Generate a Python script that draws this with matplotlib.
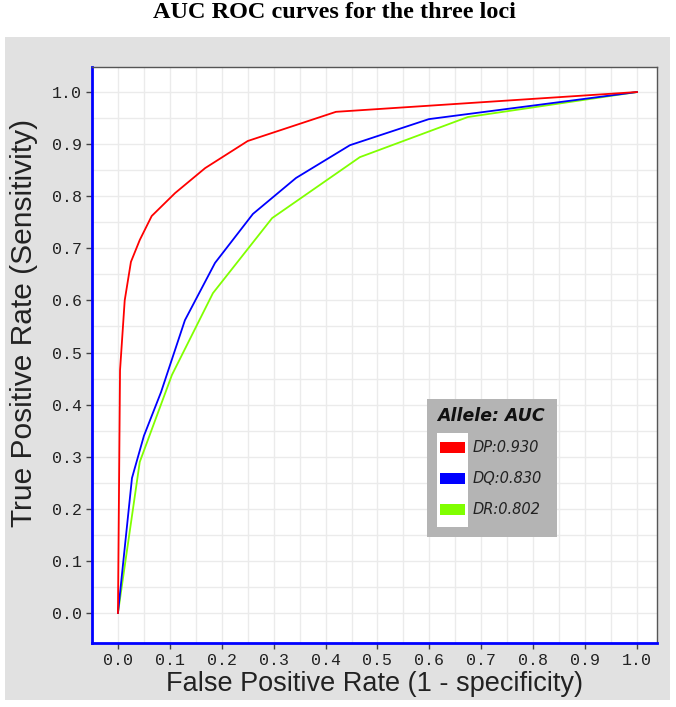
"""
AUC ROC curves for the three HLA loci
"""

import matplotlib
matplotlib.use("Agg")
import matplotlib.pyplot as plt
from matplotlib.patches import Rectangle
import numpy as np

# ROC points (false positive rate, true positive rate)
dp_fpr = [0.0, 0.004, 0.013, 0.025, 0.042, 0.065, 0.11, 0.168, 0.25, 0.42, 1.0]
dp_tpr = [0.0, 0.466, 0.60, 0.674, 0.716, 0.762, 0.806, 0.854, 0.906, 0.962, 1.0]

dq_fpr = [0.0, 0.027, 0.05, 0.083, 0.129, 0.187, 0.26, 0.343, 0.447, 0.599, 1.0]
dq_tpr = [0.0, 0.259, 0.34, 0.424, 0.562, 0.672, 0.766, 0.835, 0.898, 0.948, 1.0]

dr_fpr = [0.0, 0.042, 0.104, 0.183, 0.297, 0.466, 0.674, 1.0]
dr_tpr = [0.0, 0.29, 0.457, 0.614, 0.758, 0.875, 0.952, 1.0]

loci = ['DP', 'DQ', 'DR']
auc = [0.930, 0.830, 0.802]
colors = ['#ff0000', '#0000ff', '#80ff00']

ticks = np.round(np.arange(0, 1.01, 0.1), 1)
tick_labels = [f"{t:.1f}" for t in ticks]

fig = plt.figure(figsize=(6.76, 7.07), dpi=100)

# grey panel behind the plot
panel = Rectangle((0.0074, 0.0099), 0.9837, 0.938, transform=fig.transFigure,
                  facecolor='#e1e1e1', edgecolor='none', zorder=-10)
fig.add_artist(panel)

fig.text(0.494, 0.983, 'AUC ROC curves for the three loci', ha='center', va='center',
         fontsize=17.5, fontweight='bold', family='Liberation Serif')

ax = fig.add_axes([0.1361, 0.0905, 0.8358, 0.8147])
ax.set_facecolor('white')

curves = [(dp_fpr, dp_tpr), (dq_fpr, dq_tpr), (dr_fpr, dr_tpr)]
# draw DR first so red sits on top as in the original
for i in [2, 1, 0]:
    x, y = curves[i]
    ax.plot(x, y, color=colors[i], linewidth=1.3, zorder=3)

ax.set_xlim(-0.05, 1.0385)
ax.set_ylim(-0.0576, 1.048)

ax.set_xticks(ticks)
ax.set_xticklabels(tick_labels)
ax.set_yticks(ticks)
ax.set_yticklabels(tick_labels)
ax.set_xticks(np.arange(0.05, 1.0, 0.1), minor=True)
ax.set_yticks(np.arange(0.05, 1.0, 0.1), minor=True)
ax.grid(True, which='both', color='#ebebeb', linewidth=1.0)
ax.set_axisbelow(True)
ax.tick_params(which='minor', length=0)
ax.tick_params(which='major', length=4, width=1, color='#444444', pad=3,
               labelsize=12, labelcolor='#222222')
for lbl in ax.get_xticklabels() + ax.get_yticklabels():
    lbl.set_family('Liberation Mono')

for side in ['left', 'bottom']:
    ax.spines[side].set_color('#0000ff')
    ax.spines[side].set_linewidth(2)
for side in ['top', 'right']:
    ax.spines[side].set_color('#555555')
    ax.spines[side].set_linewidth(1)

ax.set_xlabel('False Positive Rate (1 - specificity)', fontsize=19.5,
              family='Liberation Sans', color='#222222', labelpad=2)
ax.set_ylabel('True Positive Rate (Sensitivity)', fontsize=21.5,
              family='Liberation Sans', color='#222222')
ax.yaxis.set_label_coords(-0.095, 0.556)

# legend box drawn by hand to match the original look
tr = ax.transAxes
ax.add_patch(Rectangle((0.593, 0.184), 0.230, 0.424 - 0.184, transform=tr,
                       facecolor='#b4b4b4', edgecolor='none', zorder=5))
ax.add_patch(Rectangle((0.611, 0.201), 0.055, 0.365 - 0.201, transform=tr,
                       facecolor='white', edgecolor='none', zorder=6))
ax.text(0.611, 0.394, 'Allele: AUC', transform=tr, fontsize=12.5,
        fontweight='bold', style='italic', family='DejaVu Sans',
        va='center', ha='left', color='#111111', zorder=7)
row_y = [0.339, 0.285, 0.231]
for i in range(3):
    ax.add_patch(Rectangle((0.616, row_y[i] - 0.0095), 0.044, 0.019, transform=tr,
                           facecolor=colors[i], edgecolor='none', zorder=7))
    ax.text(0.674, row_y[i], f"{loci[i]}:{auc[i]:.3f}", transform=tr, fontsize=10.5,
            style='italic', family='DejaVu Sans', va='center', ha='left',
            color='#222222', zorder=7)

plt.savefig('out.png', dpi=100)
